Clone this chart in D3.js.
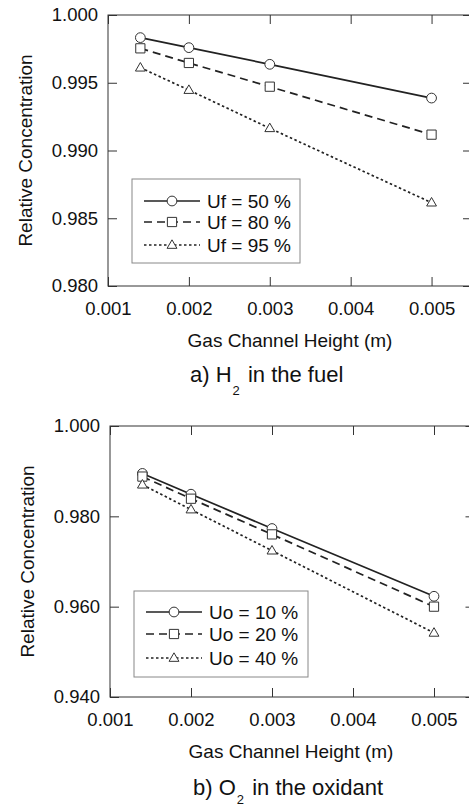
<!DOCTYPE html>
<html>
<head>
<meta charset="utf-8">
<script src="https://cdn.jsdelivr.net/npm/d3@7"></script>
<style>
  html, body { margin: 0; padding: 0; background: #fff; }
  svg { display: block; }
  text { font-family: "Liberation Sans", Arial, Helvetica, sans-serif; fill: #111; }
</style>
</head>
<body>
<svg id="chart" width="469" height="806"></svg>
<script>
// Channel heights (m) shared by both panels
const heights = [0.0014, 0.002, 0.003, 0.005];
const xTicks = [0.001, 0.002, 0.003, 0.004, 0.005];

// Panel a) H2 in the fuel, by fuel utilisation
const fuelLabels = ["Uf = 50 %", "Uf = 80 %", "Uf = 95 %"];
const fuelUf50 = [0.99833, 0.99759, 0.99636, 0.99387];
const fuelUf80 = [0.99754, 0.99646, 0.99471, 0.99117];
const fuelUf95 = [0.99611, 0.99446, 0.99164, 0.98615];
const fuelTicks = [0.980, 0.985, 0.990, 0.995, 1.000];

// Panel b) O2 in the oxidant, by oxidant utilisation
const oxLabels = ["Uo = 10 %", "Uo = 20 %", "Uo = 40 %"];
const oxUo10 = [0.9895, 0.9849, 0.9773, 0.9623];
const oxUo20 = [0.9888, 0.9839, 0.9760, 0.9600];
const oxUo40 = [0.9870, 0.9815, 0.9724, 0.9542];
const oxTicks = [0.940, 0.960, 0.980, 1.000];

const svg = d3.select("#chart");
const dashes = [null, "8,5", "2.5,2.5"];
const symbols = [d3.symbolCircle, d3.symbolSquare, d3.symbolTriangle];
const symSizes = [75, 85, 42];

function panel(cfg) {
  const x = d3.scaleLinear().domain([0.001, 0.0055]).range([cfg.left, cfg.right]);
  const y = d3.scaleLinear().domain(cfg.yDomain).range([cfg.bottom, cfg.top]);
  const g = svg.append("g");

  // frame
  g.append("rect")
    .attr("x", cfg.left).attr("y", cfg.top)
    .attr("width", cfg.right - cfg.left).attr("height", cfg.bottom - cfg.top)
    .attr("fill", "none").attr("stroke", "#333").attr("stroke-width", 1);

  // inward ticks on all four sides
  const tl = 9;
  const bottomAxis = d3.axisBottom(x).tickValues(xTicks).tickSize(-tl).tickFormat(d3.format(".3f")).tickPadding(16);
  const ax = g.append("g").attr("transform", `translate(0,${cfg.bottom})`).call(bottomAxis);
  const topAxis = d3.axisTop(x).tickValues(xTicks).tickSize(-tl).tickFormat("");
  const at = g.append("g").attr("transform", `translate(0,${cfg.top})`).call(topAxis);
  const leftAxis = d3.axisLeft(y).tickValues(cfg.yTicks).tickSize(-tl).tickFormat(d3.format(".3f")).tickPadding(10);
  const ay = g.append("g").attr("transform", `translate(${cfg.left},0)`).call(leftAxis);
  const rightAxis = d3.axisRight(y).tickValues(cfg.yTicks).tickSize(-tl).tickFormat("");
  const ar = g.append("g").attr("transform", `translate(${cfg.right},0)`).call(rightAxis);
  [ax, at, ay, ar].forEach(a => {
    a.select(".domain").remove();
    a.selectAll("line").attr("stroke", "#333");
    a.selectAll("text").attr("font-size", 18.5).attr("fill", "#111")
      .attr("font-family", "'Liberation Sans', Arial, sans-serif");
  });
  ax.selectAll("text").attr("dy", "0.71em");

  // axis titles
  g.append("text")
    .attr("x", (cfg.left + 472) / 2).attr("y", cfg.bottom + 61)
    .attr("text-anchor", "middle").attr("font-size", 19)
    .text("Gas Channel Height (m)");
  g.append("text")
    .attr("transform", `translate(${cfg.left - 76},${(cfg.top + cfg.bottom) / 2}) rotate(-90)`)
    .attr("text-anchor", "middle").attr("font-size", 19)
    .text("Relative Concentration");

  // caption with subscript
  const cap = g.append("text")
    .attr("x", cfg.capX).attr("y", cfg.bottom + cfg.capDy)
    .attr("font-size", 22);
  cap.append("tspan").text(cfg.cap[0]);
  cap.append("tspan").attr("dx", 1).attr("dy", cfg.subDy).attr("font-size", 13).text(cfg.cap[1]);
  cap.append("tspan").attr("dx", 2).attr("dy", -cfg.subDy).text(cfg.cap[2]);

  // series lines and markers
  const line = d3.line().x((d, i) => x(heights[i])).y(d => y(d));
  cfg.series.forEach((vals, s) => {
    g.append("path").datum(vals)
      .attr("d", line).attr("fill", "none")
      .attr("stroke", "#222").attr("stroke-width", 1.7)
      .attr("stroke-dasharray", dashes[s]);
  });
  cfg.series.forEach((vals, s) => {
    g.selectAll(null).data(vals).join("path")
      .attr("transform", (d, i) => `translate(${x(heights[i])},${y(d) + (s === 2 ? 0.5 : 0)})`)
      .attr("d", d3.symbol().type(symbols[s]).size(symSizes[s]))
      .attr("fill", "#fff").attr("stroke", "#333").attr("stroke-width", 1);
  });

  // legend
  const L = cfg.legend;
  g.append("rect")
    .attr("x", L.x).attr("y", L.y).attr("width", L.w).attr("height", L.h)
    .attr("fill", "#fff").attr("stroke", "#888").attr("stroke-width", 1);
  cfg.labels.forEach((lab, s) => {
    const ry = L.rows[s];
    g.append("line")
      .attr("x1", L.x + 12).attr("x2", L.x + 68)
      .attr("y1", ry).attr("y2", ry)
      .attr("stroke", "#222").attr("stroke-width", 1.5)
      .attr("stroke-dasharray", dashes[s]);
    g.append("path")
      .attr("transform", `translate(${L.x + 40},${ry + (s === 2 ? 0.5 : 0)})`)
      .attr("d", d3.symbol().type(symbols[s]).size(symSizes[s]))
      .attr("fill", "#fff").attr("stroke", "#333").attr("stroke-width", 1);
    g.append("text")
      .attr("x", L.x + 75).attr("y", ry).attr("dy", "0.36em")
      .attr("font-size", 19).text(lab);
  });
}

panel({
  left: 108, right: 472, top: 15, bottom: 286,
  yDomain: [0.980, 1.000], yTicks: fuelTicks,
  series: [fuelUf50, fuelUf80, fuelUf95], labels: fuelLabels,
  cap: ["a) H", "2", " in the fuel"], capX: 190, capDy: 96, subDy: 13,
  legend: { x: 132, y: 179, w: 168, h: 84, rows: [201, 222, 245] }
});

panel({
  left: 110, right: 474.5, top: 426, bottom: 697,
  yDomain: [0.940, 1.000], yTicks: oxTicks,
  series: [oxUo10, oxUo20, oxUo40], labels: oxLabels,
  cap: ["b) O", "2", " in the oxidant"], capX: 193, capDy: 98, subDy: 9,
  legend: { x: 134, y: 591, w: 174, h: 86, rows: [612, 634, 658] }
});
</script>
</body>
</html>
